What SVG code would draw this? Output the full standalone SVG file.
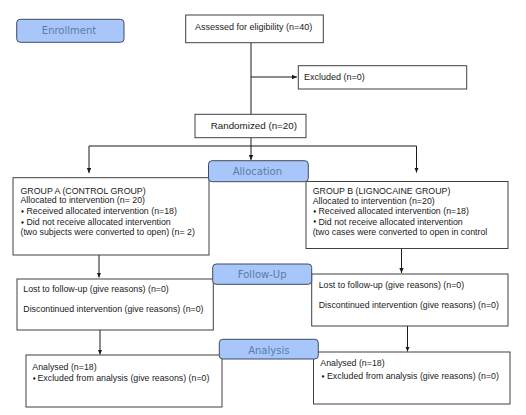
<svg xmlns="http://www.w3.org/2000/svg" width="526" height="415" viewBox="0 0 526 415">
<defs>
<marker id="ah" markerUnits="userSpaceOnUse" markerWidth="6" markerHeight="6" refX="5" refY="2.2" orient="auto">
<path d="M0,0 L5,2.2 L0,4.4 z" fill="#1a1a1a"/>
</marker>
<style>
.box{fill:#ffffff;stroke:#404040;stroke-width:1}
.lab{fill:#a8c6fa;stroke:#3f4d5c;stroke-width:1}
.lt{font-family:"DejaVu Sans",sans-serif;font-size:10px;fill:#5b7ca6;text-anchor:middle}
.t{font-family:"Liberation Sans",Arial,sans-serif;font-size:8.8px;fill:#1a1a1a}
.tt{font-family:"Liberation Sans",Arial,sans-serif;font-size:9px;fill:#1a1a1a}
.b{font-family:"DejaVu Sans",sans-serif;font-size:4.5px;fill:#1a1a1a}
.c{fill:none;stroke:#1a1a1a;stroke-width:1}
.a{fill:none;stroke:#1a1a1a;stroke-width:1;marker-end:url(#ah)}
</style>
</defs>
<rect width="526" height="415" fill="#ffffff"/>

<g id="connectors">
<line class="c" x1="251" y1="42.7" x2="251" y2="114.3"/>
<line class="a" x1="251" y1="77" x2="297" y2="77"/>
<line class="c" x1="251" y1="137.7" x2="251" y2="146"/>
<line class="c" x1="89" y1="146" x2="416.5" y2="146"/>
<line class="a" x1="89" y1="146" x2="89" y2="173"/>
<line class="a" x1="251" y1="146" x2="251" y2="160"/>
<line class="a" x1="416.5" y1="146" x2="416.5" y2="172.5"/>
<line class="a" x1="99" y1="255" x2="99" y2="277.5"/>
<line class="a" x1="401.5" y1="248.5" x2="401.5" y2="273"/>
<line class="a" x1="100" y1="330" x2="100" y2="354.5"/>
<line class="a" x1="407.5" y1="326" x2="407.5" y2="351.5"/>
</g>

<g id="assessed">
<rect class="box" x="185.7" y="15" width="137.6" height="27.7"/>
<text class="tt" x="195" y="29.5">Assessed for eligibility (n=40)</text>
</g>

<g id="excluded">
<rect class="box" x="298.3" y="65.7" width="168.4" height="23.3"/>
<text class="tt" x="304" y="80">Excluded (n=0)</text>
</g>

<g id="randomized">
<rect class="box" x="195" y="114.3" width="111" height="23.4"/>
<text class="tt" x="210.7" y="129.3" style="font-size:9.8px">Randomized (n=20)</text>
</g>

<g id="groupA">
<rect class="box" x="13" y="177.7" width="196" height="77.3"/>
<text class="t" x="20.5" y="193.5">GROUP A (CONTROL GROUP)</text>
<text class="t" x="20.5" y="203.3">Allocated to intervention (n= 20)</text>
<text class="b" x="20.5" y="212.5">♦</text>
<text class="t" x="26.5" y="213.7">Received allocated intervention (n=18)</text>
<text class="b" x="20.5" y="223.8">♦</text>
<text class="t" x="26.5" y="225">Did not receive allocated intervention</text>
<text class="t" x="20.5" y="235">(two subjects were converted to open) (n= 2)</text>
</g>

<g id="groupB">
<rect class="box" x="306" y="181.5" width="202" height="67"/>
<text class="t" x="312.7" y="194">GROUP B (LIGNOCAINE GROUP)</text>
<text class="t" x="312.7" y="203.6">Allocated to intervention (n=20)</text>
<text class="b" x="312.7" y="212.8">♦</text>
<text class="t" x="318.5" y="214">Received allocated intervention (n=18)</text>
<text class="b" x="312.7" y="223.3">♦</text>
<text class="t" x="318.5" y="224.5">Did not receive allocated intervention</text>
<text class="t" x="312.7" y="234.5">(two cases were converted to open in control</text>
</g>

<g id="followA">
<rect class="box" x="17" y="279" width="196.3" height="51"/>
<text class="t" x="23.3" y="292">Lost to follow-up (give reasons) (n=0)</text>
<text class="t" x="23.3" y="311.7">Discontinued intervention (give reasons) (n=0)</text>
</g>

<g id="followB">
<rect class="box" x="311.7" y="274" width="196.3" height="52"/>
<text class="t" x="318.7" y="288.3">Lost to follow-up (give reasons) (n=0)</text>
<text class="t" x="318.7" y="307.7">Discontinued intervention (give reasons) (n=0)</text>
</g>

<g id="analysisA">
<rect class="box" x="26" y="355" width="196" height="52"/>
<text class="t" x="32.3" y="370">Analysed (n=18)</text>
<text class="b" x="32.3" y="379.5">♦</text>
<text class="t" x="37.5" y="380.7">Excluded from analysis (give reasons) (n=0)</text>
</g>

<g id="analysisB">
<rect class="box" x="313.5" y="352" width="196.5" height="52"/>
<text class="t" x="320.3" y="366">Analysed (n=18)</text>
<text class="b" x="321" y="378.2">♦</text>
<text class="t" x="327" y="379.4">Excluded from analysis (give reasons) (n=0)</text>
</g>

<g id="enrollment">
<rect class="lab" x="16.7" y="19.3" width="107.3" height="23" rx="3.5"/>
<text class="lt" x="69" y="34.3">Enrollment</text>
</g>

<g id="allocation">
<rect class="lab" x="208.5" y="160.7" width="99.8" height="21" rx="3.5"/>
<text class="lt" x="257.4" y="175">Allocation</text>
</g>

<g id="followup">
<rect class="lab" x="212.7" y="264" width="99" height="20.3" rx="3.5"/>
<text class="lt" x="262.2" y="277.7">Follow-Up</text>
</g>

<g id="analysis">
<rect class="lab" x="219.3" y="339.3" width="99" height="19.7" rx="3.5"/>
<text class="lt" x="268.8" y="353.5">Analysis</text>
</g>
</svg>
